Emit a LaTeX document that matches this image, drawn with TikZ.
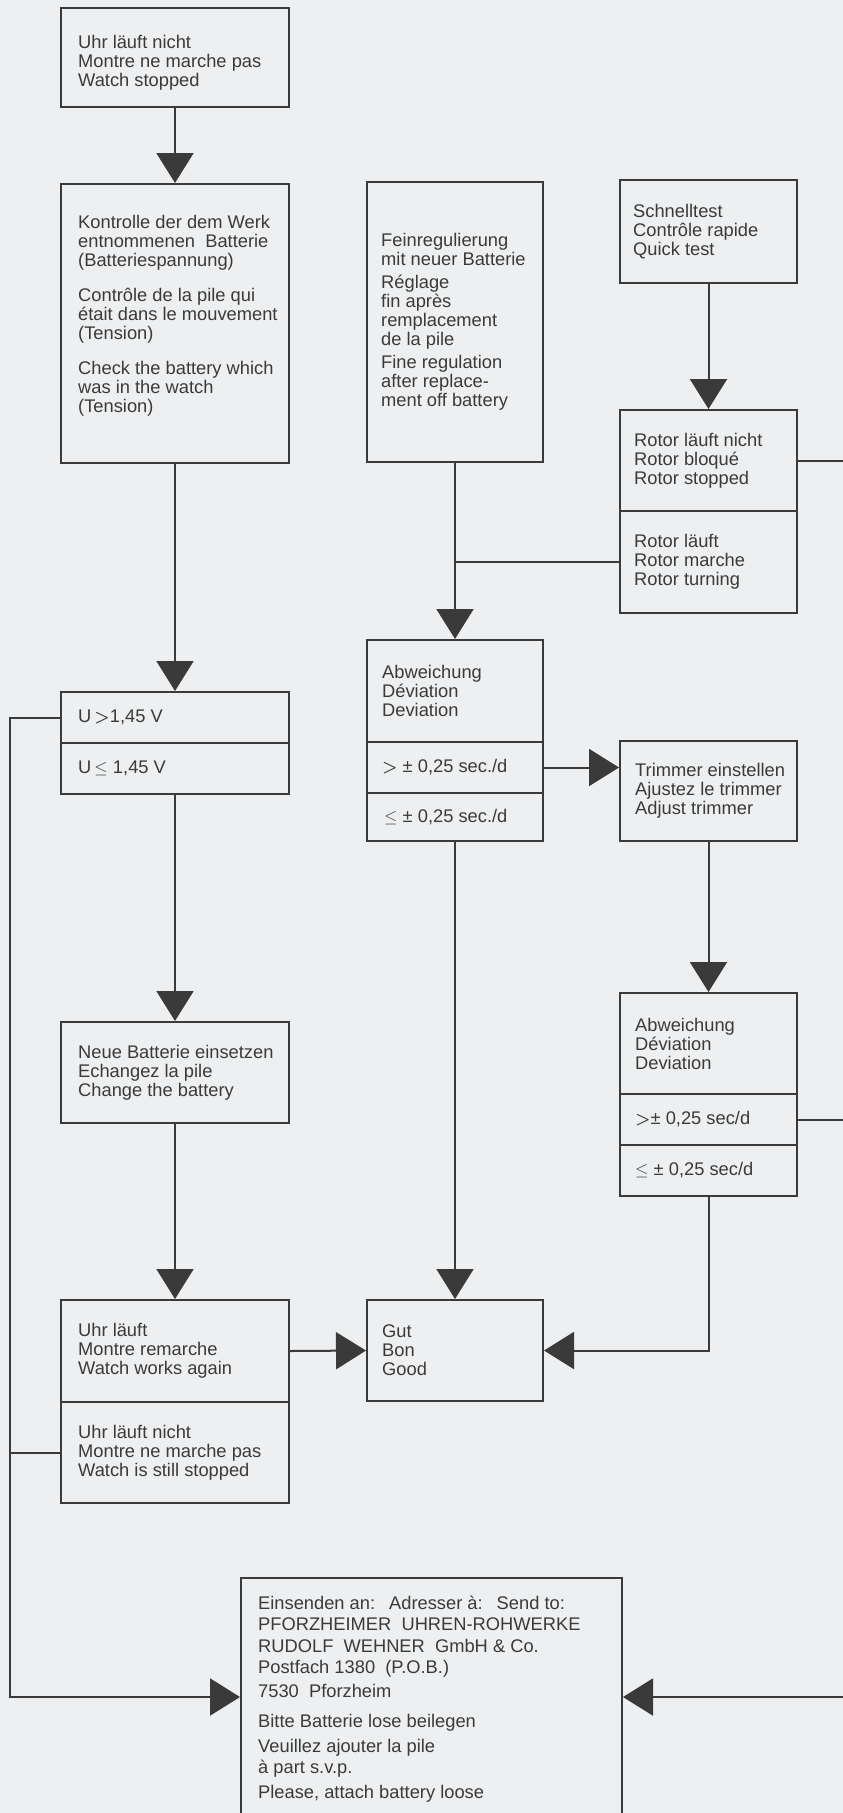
\documentclass[tikz,border=0pt]{standalone}
\usepackage{fontspec}
\setmainfont{Liberation Sans}
\usepackage{tikz}
\usetikzlibrary{arrows.meta,calc}
\definecolor{paper}{RGB}{238,239,240}
\definecolor{ink}{RGB}{58,58,58}
\newcommand{\gtsym}{{\boldmath$>$}}
\tikzset{
  base/.style={font=\fontsize{18.3}{19}\selectfont, text=ink, inner sep=0pt},
  box/.style={rectangle, draw=ink, line width=2pt, inner sep=0pt},
  lbl/.style={base, align=left, anchor=west},
  wire/.style={draw=ink, line width=2pt},
  arr/.style={wire, -{Triangle[length=30pt,width=37pt]}},
}
\begin{document}
\begin{tikzpicture}[x=1pt,y=-1pt]
  \useasboundingbox (0,0) rectangle (843,1813);
  \clip (0,0) rectangle (843,1813);
  \fill[paper] (0,0) rectangle (843,1813);
  \foreach \nm/\x/\y/\w/\h in {stop/175/57.5/228/99, check/175/323.5/228/279,
      ugt/175/717.5/228/51, ule/175/768.5/228/51, newbat/175/1072.5/228/101,
      works/175/1351/228/102, still/175/1452.5/228/101,
      fine/455/322/176/280, dev1/455/691/176/102, dev1gt/455/767.5/176/51,
      dev1le/455/817/176/48, good/455/1350.5/176/101,
      quick/708.5/231.5/177/103, rstop/708.5/460.5/177/101, rturn/708.5/562/177/102,
      trim/708.5/791/177/100, dev2/708.5/1043.5/177/101, dev2gt/708.5/1119.5/177/51,
      dev2le/708.5/1170.5/177/51, send/431.5/1709/381/262}{
    \node[box, minimum width=\w pt, minimum height=\h pt] (\nm) at (\x,\y) {};
  }
  \node[lbl] (stoptx) at ([xshift=18pt,yshift=-5pt]stop.west) {Uhr läuft nicht\\Montre ne marche pas\\Watch stopped};
  \node[lbl] (checktx) at ([xshift=18pt,yshift=8pt]check.west) {Kontrolle der dem Werk\\entnommenen\ \ Batterie\\(Batteriespannung)\\[16pt]Contrôle de la pile qui\\était dans le mouvement\\(Tension)\\[16pt]Check the battery which\\was in the watch\\(Tension)};
  \node[lbl] (ugttx) at ([xshift=18pt]ugt.west) {U\,\gtsym1,45 V};
  \node[lbl] (uletx) at ([xshift=18pt]ule.west) {U\,$\leq$ 1,45 V};
  \node[lbl] (newbattx) at ([xshift=18pt]newbat.west) {Neue Batterie einsetzen\\Echangez la pile\\Change the battery};
  \node[lbl] (workstx) at ([xshift=18pt]works.west) {Uhr läuft\\Montre remarche\\Watch works again};
  \node[lbl] (stilltx) at ([xshift=18pt]still.west) {Uhr läuft nicht\\Montre ne marche pas\\Watch is still stopped};
  \node[lbl] (finetx) at ([xshift=15pt]fine.west) {Feinregulierung\\mit neuer Batterie\\[4pt]Réglage\\fin après\\remplacement\\de la pile\\[4pt]Fine regulation\\after replace-\\ment off battery};
  \node[lbl] (dev1tx) at ([xshift=16pt]dev1.west) {Abweichung\\Déviation\\Deviation};
  \node[lbl] (dev1gttx) at ([xshift=16pt]dev1gt.west) {\gtsym\ ± 0,25 sec./d};
  \node[lbl] (dev1letx) at ([xshift=18pt]dev1le.west) {$\leq$ ± 0,25 sec./d};
  \node[lbl] (goodtx) at ([xshift=16pt]good.west) {Gut\\Bon\\Good};
  \node[lbl] (quicktx) at ([xshift=14pt]quick.west) {Schnelltest\\Contrôle rapide\\Quick test};
  \node[lbl] (rstoptx) at ([xshift=15pt]rstop.west) {Rotor läuft nicht\\Rotor bloqué\\Rotor stopped};
  \node[lbl] (rturntx) at ([xshift=15pt]rturn.west) {Rotor läuft\\Rotor marche\\Rotor turning};
  \node[lbl] (trimtx) at ([xshift=16pt]trim.west) {Trimmer einstellen\\Ajustez le trimmer\\Adjust trimmer};
  \node[lbl] (dev2tx) at ([xshift=16pt]dev2.west) {Abweichung\\Déviation\\Deviation};
  \node[lbl] (dev2gttx) at ([xshift=16pt]dev2gt.west) {\gtsym± 0,25 sec/d};
  \node[lbl] (dev2letx) at ([xshift=16pt]dev2le.west) {$\leq$ ± 0,25 sec/d};
  \node[lbl, anchor=north west, font=\fontsize{18.3}{21.5}\selectfont] (sendtx) at ([xshift=18pt,yshift=-18.5pt]send.north west)
    {Einsenden an:\hspace{14pt}Adresser à:\hspace{14pt}Send to:\\PFORZHEIMER\ \ UHREN-ROHWERKE\\RUDOLF\ \ WEHNER\ \ GmbH \& Co.\\Postfach 1380\ \ (P.O.B.)\\[2pt]7530\ \ Pforzheim\\[9pt]Bitte Batterie lose beilegen\\[3pt]Veuillez ajouter la pile\\à part s.v.p.\\[3pt]Please, attach battery loose};
  \coordinate (rail) at (10,0);
  \coordinate (edge) at (860,0);
  \coordinate (sendrow) at (0,1697);
  \draw[arr] (stop.south) -- (check.north);
  \draw[arr] (check.south) -- (ugt.north);
  \draw[arr] (ule.south) -- (newbat.north);
  \draw[arr] (newbat.south) -- (works.north);
  \draw[arr] (works.east) -- (good.west);
  \draw[arr] (ugt.west) -| (rail |- sendrow) -- (send.west |- sendrow);
  \draw[wire] (still.west) -- (still.west -| rail);
  \draw[arr] (fine.south) -- (dev1.north);
  \draw[wire] (rturn.west) -- (rturn.west -| fine.south);
  \draw[arr] (quick.south) -- (rstop.north);
  \draw[wire] (rstop.east) -- (rstop.east -| edge);
  \draw[arr] (dev1gt.east) -- (dev1gt.east -| trim.west);
  \draw[arr] (dev1le.south) -- (good.north);
  \draw[arr] (trim.south) -- (dev2.north);
  \draw[wire] (dev2gt.east) -- (dev2gt.east -| edge);
  \draw[arr] (dev2le.south) |- (good.east);
  \draw[arr] (sendrow -| edge) -- (sendrow -| send.east);
\end{tikzpicture}
\end{document}
